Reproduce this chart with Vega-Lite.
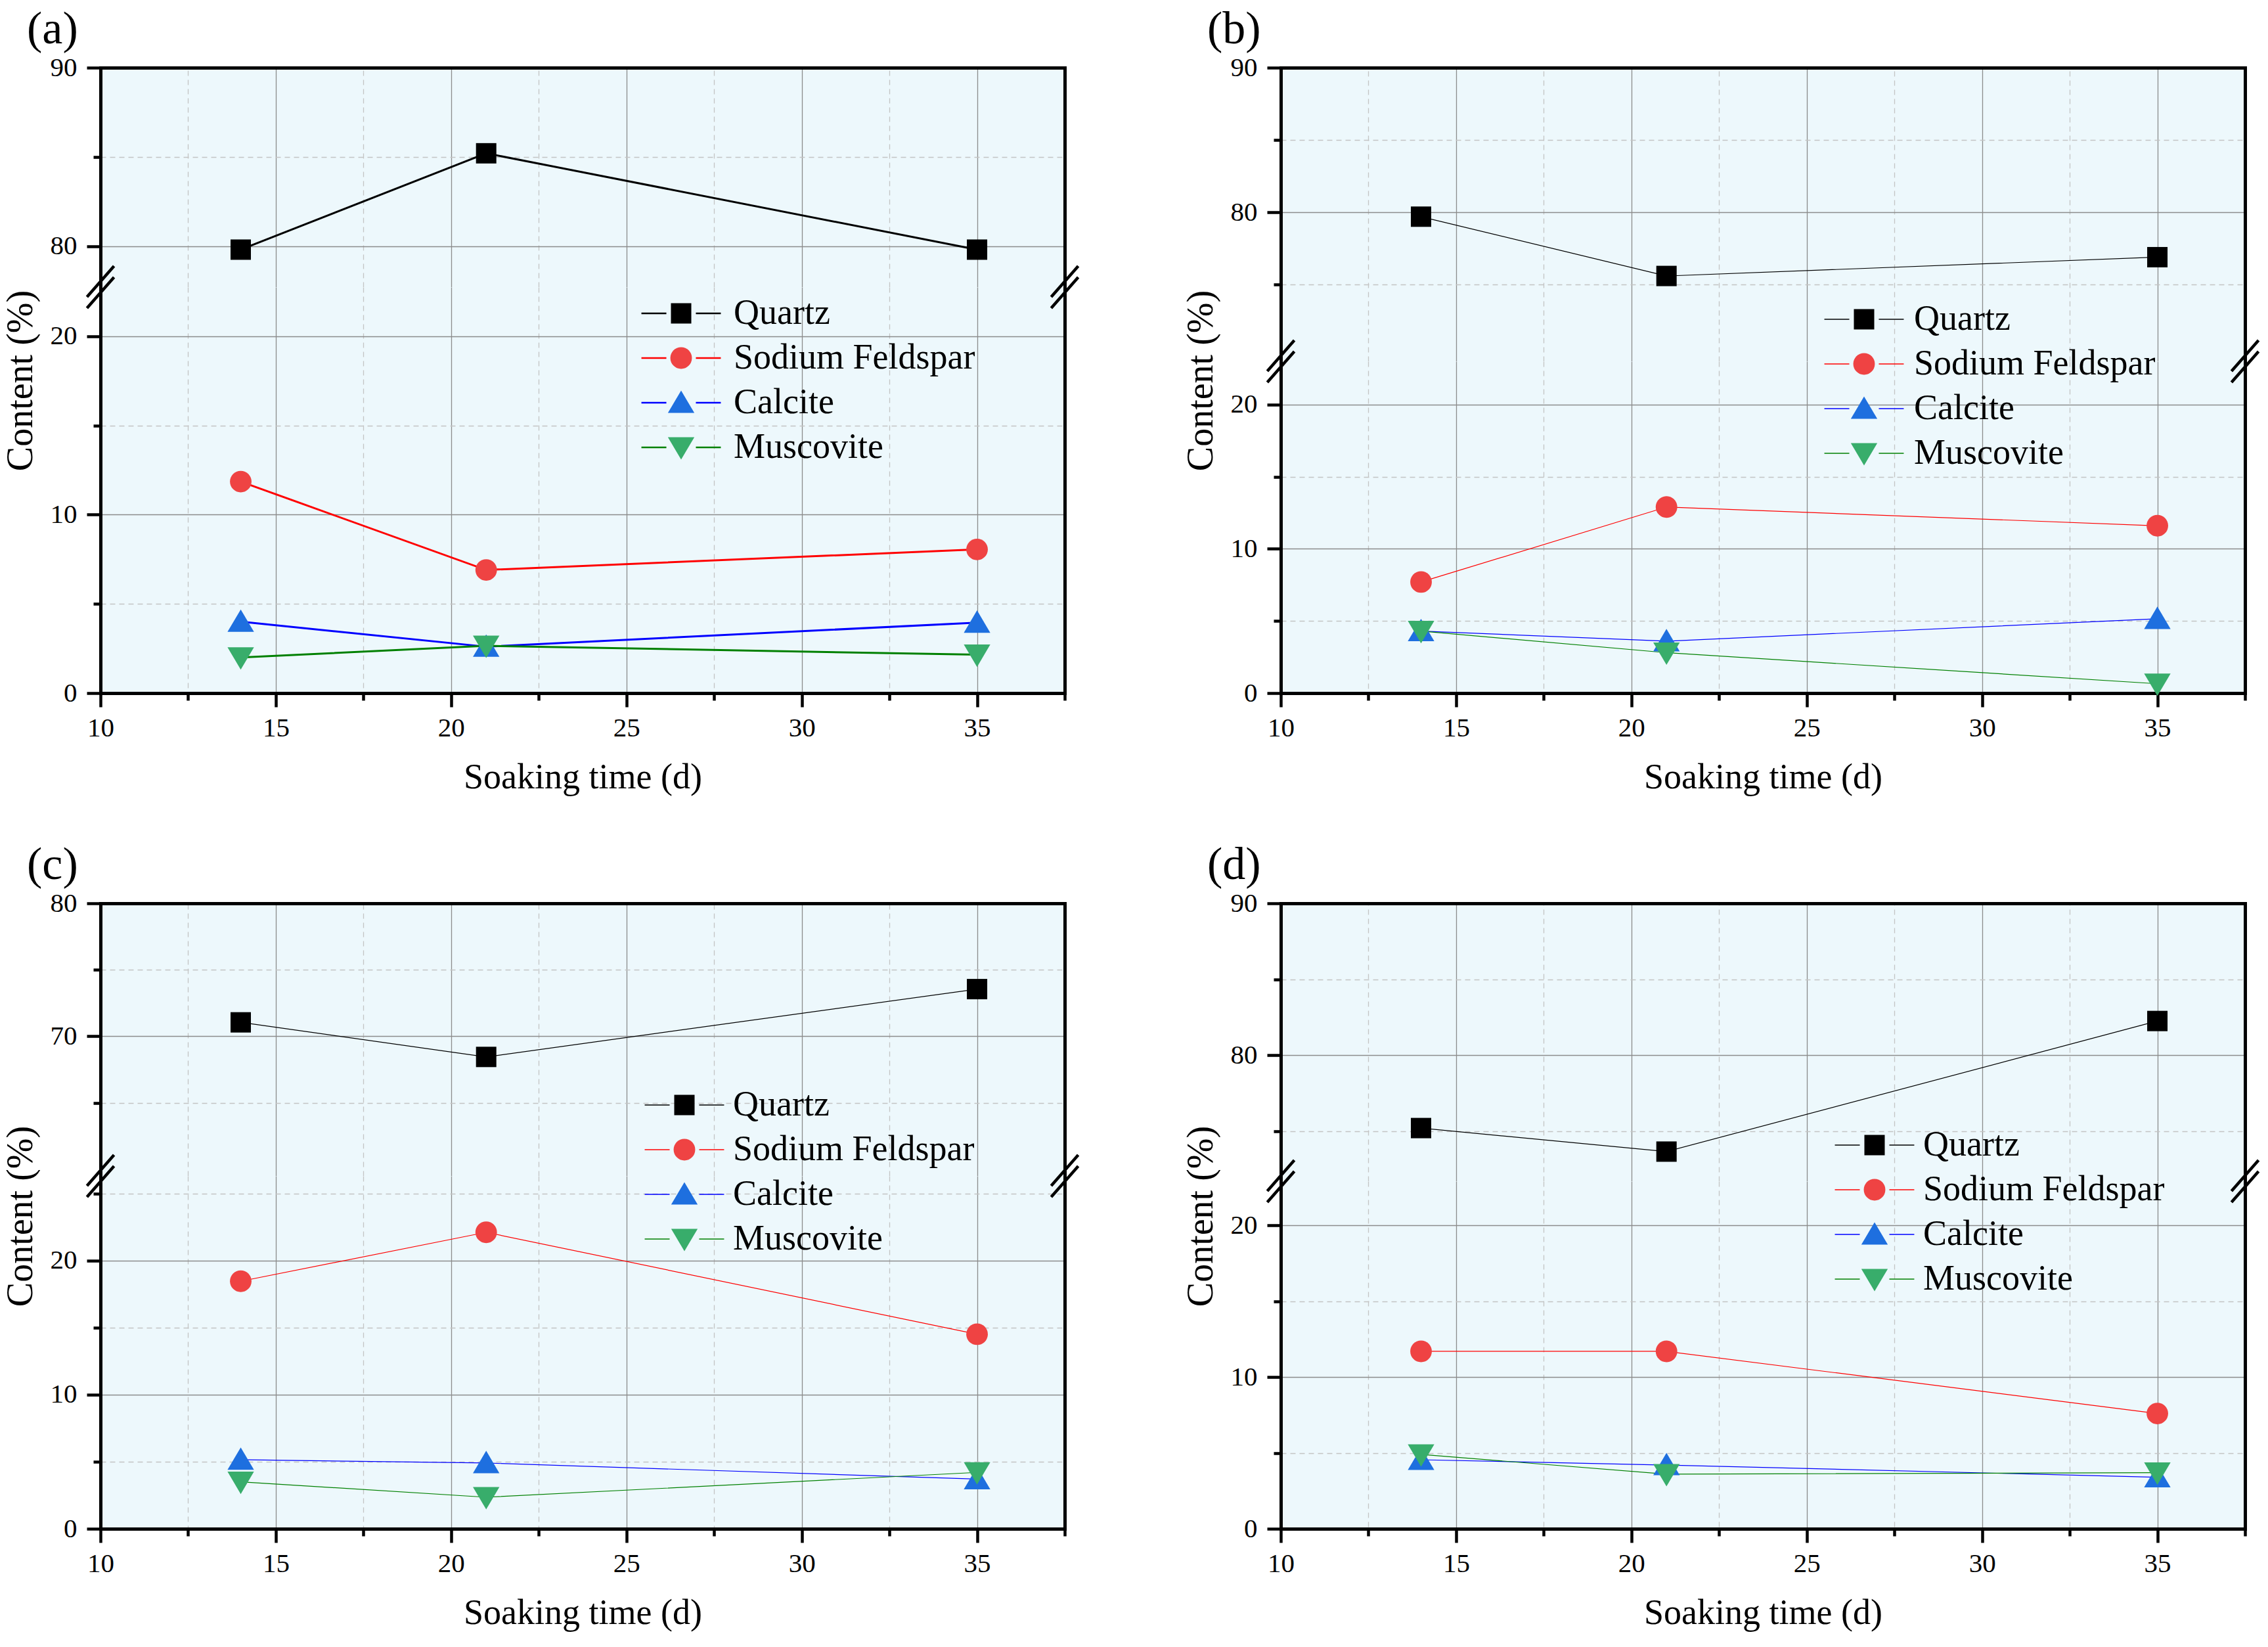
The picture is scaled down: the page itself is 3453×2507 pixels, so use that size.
{
  "$schema": "https://vega.github.io/schema/vega-lite/v6.json",
  "description": "Mineral content vs soaking time, four panels with broken y axes",
  "background": "white",
  "padding": {"left": 3, "top": 10, "right": 5, "bottom": 5},
  "config": {
    "font": "Liberation Serif",
    "view": {"stroke": null, "fill": "#EDF8FC"},
    "axis": {"labelFont": "Liberation Serif", "titleFont": "Liberation Serif", "labelColor": "black", "titleColor": "black"},
    "legend": {"labelFont": "Liberation Serif"},
    "title": {"font": "Liberation Serif", "fontWeight": "normal", "color": "black"}
  },
  "data": {
    "values": [
      {"panel": "a", "mineral": "Quartz", "time": 14, "content": 79.8},
      {"panel": "a", "mineral": "Quartz", "time": 21, "content": 85.2},
      {"panel": "a", "mineral": "Quartz", "time": 35, "content": 79.8},
      {"panel": "a", "mineral": "Sodium Feldspar", "time": 14, "content": 11.85},
      {"panel": "a", "mineral": "Sodium Feldspar", "time": 21, "content": 6.9},
      {"panel": "a", "mineral": "Sodium Feldspar", "time": 35, "content": 8.05},
      {"panel": "a", "mineral": "Calcite", "time": 14, "content": 4.0},
      {"panel": "a", "mineral": "Calcite", "time": 21, "content": 2.6},
      {"panel": "a", "mineral": "Calcite", "time": 35, "content": 3.95},
      {"panel": "a", "mineral": "Muscovite", "time": 14, "content": 2.0},
      {"panel": "a", "mineral": "Muscovite", "time": 21, "content": 2.65},
      {"panel": "a", "mineral": "Muscovite", "time": 35, "content": 2.15},
      {"panel": "b", "mineral": "Quartz", "time": 14, "content": 79.7},
      {"panel": "b", "mineral": "Quartz", "time": 21, "content": 75.6},
      {"panel": "b", "mineral": "Quartz", "time": 35, "content": 76.9},
      {"panel": "b", "mineral": "Sodium Feldspar", "time": 14, "content": 7.7},
      {"panel": "b", "mineral": "Sodium Feldspar", "time": 21, "content": 12.9},
      {"panel": "b", "mineral": "Sodium Feldspar", "time": 35, "content": 11.6},
      {"panel": "b", "mineral": "Calcite", "time": 14, "content": 4.3},
      {"panel": "b", "mineral": "Calcite", "time": 21, "content": 3.6},
      {"panel": "b", "mineral": "Calcite", "time": 35, "content": 5.15},
      {"panel": "b", "mineral": "Muscovite", "time": 14, "content": 4.3},
      {"panel": "b", "mineral": "Muscovite", "time": 21, "content": 2.8},
      {"panel": "b", "mineral": "Muscovite", "time": 35, "content": 0.65},
      {"panel": "c", "mineral": "Quartz", "time": 14, "content": 71.05},
      {"panel": "c", "mineral": "Quartz", "time": 21, "content": 68.45},
      {"panel": "c", "mineral": "Quartz", "time": 35, "content": 73.55},
      {"panel": "c", "mineral": "Sodium Feldspar", "time": 14, "content": 18.45},
      {"panel": "c", "mineral": "Sodium Feldspar", "time": 21, "content": 22.1},
      {"panel": "c", "mineral": "Sodium Feldspar", "time": 35, "content": 14.5},
      {"panel": "c", "mineral": "Calcite", "time": 14, "content": 5.15},
      {"panel": "c", "mineral": "Calcite", "time": 21, "content": 4.9},
      {"panel": "c", "mineral": "Calcite", "time": 35, "content": 3.7},
      {"panel": "c", "mineral": "Muscovite", "time": 14, "content": 3.5},
      {"panel": "c", "mineral": "Muscovite", "time": 21, "content": 2.35},
      {"panel": "c", "mineral": "Muscovite", "time": 35, "content": 4.2},
      {"panel": "d", "mineral": "Quartz", "time": 14, "content": 75.2},
      {"panel": "d", "mineral": "Quartz", "time": 21, "content": 73.65},
      {"panel": "d", "mineral": "Quartz", "time": 35, "content": 82.25},
      {"panel": "d", "mineral": "Sodium Feldspar", "time": 14, "content": 11.7},
      {"panel": "d", "mineral": "Sodium Feldspar", "time": 21, "content": 11.7},
      {"panel": "d", "mineral": "Sodium Feldspar", "time": 35, "content": 7.6},
      {"panel": "d", "mineral": "Calcite", "time": 14, "content": 4.55},
      {"panel": "d", "mineral": "Calcite", "time": 21, "content": 4.2},
      {"panel": "d", "mineral": "Calcite", "time": 35, "content": 3.4},
      {"panel": "d", "mineral": "Muscovite", "time": 14, "content": 4.9},
      {"panel": "d", "mineral": "Muscovite", "time": 21, "content": 3.6},
      {"panel": "d", "mineral": "Muscovite", "time": 35, "content": 3.7}
    ]
  },
  "spacing": 72,
  "resolve": {"scale": {"fill": "independent", "shape": "independent", "stroke": "independent"}},
  "vconcat": [
    {
      "spacing": 149,
      "resolve": {"scale": {"fill": "independent", "shape": "independent", "stroke": "independent"}},
      "hconcat": [
        {
          "title": {"text": "(a)", "anchor": "start", "fontSize": 70, "offset": 1, "dx": 38},
          "bounds": "flush",
          "spacing": 0,
          "resolve": {"scale": {"fill": "independent", "shape": "independent", "stroke": "independent"}},
          "vconcat": [
            {
              "width": 1468, "height": 334,
              "resolve": {"axis": {"x": "independent", "y": "independent"}},
              "layer": [
                {
                  "transform": [{"filter": "datum.panel === 'a' && datum.mineral === 'Quartz'"}],
                  "mark": {"type": "line", "strokeWidth": 3},
                  "encoding": {
                    "x": {"field": "time", "type": "quantitative", "scale": {"domain": [10, 37.5], "nice": false, "zero": false},
                      "axis": {"orient": "top", "values": [15, 20, 25, 30, 35], "grid": true, "gridColor": "#8c8c8c", "gridWidth": 1.3, "domain": true, "domainColor": "black", "domainWidth": 5, "domainCap": "square", "ticks": false, "labels": false, "title": null}},
                    "y": {"field": "content", "type": "quantitative", "scale": {"domain": [77.7, 90], "nice": false, "zero": false},
                      "axis": {"orient": "left", "values": [80, 90], "title": null, "grid": true, "gridColor": "#8c8c8c", "gridWidth": 1.3, "domain": true, "domainColor": "black", "domainWidth": 5, "domainCap": "square", "tickSize": 21, "tickWidth": 4.5, "tickColor": "black", "labelFont": "Liberation Serif", "labelFontSize": 41, "labelPadding": 15, "labelFlush": false, "labelOverlap": false}},
                    "stroke": {"field": "mineral", "type": "nominal", "scale": {"domain": ["Quartz"], "range": ["#000000"]}, "legend": null}
                  }
                },
                {
                  "transform": [{"filter": "datum.panel === 'a' && datum.mineral === 'Quartz'"}],
                  "mark": {"type": "point", "filled": true, "size": 961, "opacity": 1, "strokeWidth": 0},
                  "encoding": {
                    "x": {"field": "time", "type": "quantitative",
                      "axis": {"orient": "top", "values": [12.5, 17.5, 22.5, 27.5, 32.5], "grid": true, "gridColor": "#c4c4c4", "gridDash": [8, 6], "gridWidth": 1.3, "domain": false, "ticks": false, "labels": false, "title": null}},
                    "y": {"field": "content", "type": "quantitative",
                      "axis": {"orient": "left", "values": [85], "title": null, "grid": true, "gridColor": "#c4c4c4", "gridDash": [8, 6], "gridWidth": 1.3, "domain": false, "tickSize": 11, "tickWidth": 4.5, "tickColor": "black", "labels": false}},
                    "fill": {"field": "mineral", "type": "nominal", "scale": {"domain": ["Quartz", "Sodium Feldspar", "Calcite", "Muscovite"], "range": ["#000000", "#ef4343", "#1e6fdf", "#38ad6b"]}, "legend": null},
                    "shape": {"field": "mineral", "type": "nominal", "scale": {"domain": ["Quartz", "Sodium Feldspar", "Calcite", "Muscovite"], "range": ["M-1,-1H1V1H-1Z", "M1.06,0A1.06,1.06,0,1,1,-1.06,0A1.06,1.06,0,1,1,1.06,0Z", "M0,-1.2L1.3,1H-1.3Z", "M0,1.2L1.3,-1H-1.3Z"]}, "legend": null}
                  }
                },
                {
                  "data": {"values": [{}]},
                  "mark": {"type": "point", "opacity": 0},
                  "encoding": {
                    "x": {"datum": 10, "type": "quantitative", "axis": null},
                    "y": {"datum": 80, "type": "quantitative", "axis": {"orient": "right", "domain": true, "domainColor": "black", "domainWidth": 5, "domainCap": "square", "ticks": false, "labels": false, "grid": false, "title": null}}
                  }
                }
              ]
            },
            {
              "width": 1468, "height": 618,
              "resolve": {
                "axis": {"x": "independent", "y": "independent"},
                "scale": {"fill": "independent", "shape": "independent", "stroke": "independent"},
                "legend": {"fill": "independent", "shape": "independent", "stroke": "independent"}
              },
              "layer": [
                {
                  "transform": [{"filter": "datum.panel === 'a' && datum.mineral !== 'Quartz'"}],
                  "mark": {"type": "line", "strokeWidth": 3},
                  "encoding": {
                    "x": {"field": "time", "type": "quantitative", "scale": {"domain": [10, 37.5], "nice": false, "zero": false},
                      "axis": {"orient": "bottom", "values": [10, 15, 20, 25, 30, 35], "grid": true, "gridColor": "#8c8c8c", "gridWidth": 1.3, "domain": true, "domainColor": "black", "domainWidth": 5, "domainCap": "square", "tickSize": 21, "tickWidth": 4.5, "tickColor": "black", "labelFont": "Liberation Serif", "labelFontSize": 41, "labelPadding": 12, "labelFlush": false, "labelOverlap": false, "title": "Soaking time (d)", "titleFont": "Liberation Serif", "titleFontSize": 54, "titleFontWeight": "normal", "titlePadding": 28}},
                    "y": {"field": "content", "type": "quantitative", "scale": {"domain": [0, 22.75], "nice": false, "zero": false},
                      "axis": {"orient": "left", "values": [0, 10, 20], "grid": true, "gridColor": "#8c8c8c", "gridWidth": 1.3, "domain": true, "domainColor": "black", "domainWidth": 5, "domainCap": "square", "tickSize": 21, "tickWidth": 4.5, "tickColor": "black", "labelFont": "Liberation Serif", "labelFontSize": 41, "labelPadding": 15, "labelFlush": false, "labelOverlap": false, "title": "Content (%)", "titleFont": "Liberation Serif", "titleFontSize": 56, "titleFontWeight": "normal", "titleBaseline": "alphabetic", "titlePadding": 28, "titleY": 142}},
                    "stroke": {"field": "mineral", "type": "nominal", "scale": {"domain": ["Sodium Feldspar", "Calcite", "Muscovite"], "range": ["#ff0000", "#0000ff", "#008000"]}, "legend": null}
                  }
                },
                {
                  "transform": [{"filter": "datum.panel === 'a' && datum.mineral !== 'Quartz'"}],
                  "mark": {"type": "point", "filled": true, "size": 961, "opacity": 1, "strokeWidth": 0},
                  "encoding": {
                    "x": {"field": "time", "type": "quantitative",
                      "axis": {"orient": "bottom", "values": [12.5, 17.5, 22.5, 27.5, 32.5, 37.5], "grid": true, "gridColor": "#c4c4c4", "gridDash": [8, 6], "gridWidth": 1.3, "domain": false, "tickSize": 11, "tickWidth": 4.5, "tickColor": "black", "labels": false, "title": null}},
                    "y": {"field": "content", "type": "quantitative",
                      "axis": {"orient": "left", "values": [5, 15], "title": null, "grid": true, "gridColor": "#c4c4c4", "gridDash": [8, 6], "gridWidth": 1.3, "domain": false, "tickSize": 11, "tickWidth": 4.5, "tickColor": "black", "labels": false}},
                    "fill": {"field": "mineral", "type": "nominal", "scale": {"domain": ["Quartz", "Sodium Feldspar", "Calcite", "Muscovite"], "range": ["#000000", "#ef4343", "#1e6fdf", "#38ad6b"]},
                      "legend": {"orient": "none", "legendX": 857, "legendY": 13, "title": null, "padding": 0, "labelFont": "Liberation Serif", "labelFontSize": 54, "labelColor": "black", "labelOpacity": 0, "labelLimit": 1000, "labelOffset": 53, "rowPadding": 14, "symbolSize": 961, "symbolOpacity": 1, "symbolStrokeWidth": 2.7}},
                    "shape": {"field": "mineral", "type": "nominal", "scale": {"domain": ["Quartz", "Sodium Feldspar", "Calcite", "Muscovite"], "range": ["M-1,-1H1V1H-1Z", "M1.06,0A1.06,1.06,0,1,1,-1.06,0A1.06,1.06,0,1,1,1.06,0Z", "M0,-1.2L1.3,1H-1.3Z", "M0,1.2L1.3,-1H-1.3Z"]}}
                  }
                },
                {
                  "transform": [{"filter": "datum.panel === 'a' && datum.mineral !== 'Quartz'"}],
                  "mark": {"type": "point", "size": 961, "opacity": 0, "strokeWidth": 2.7},
                  "encoding": {
                    "x": {"field": "time", "type": "quantitative", "axis": null},
                    "y": {"field": "content", "type": "quantitative", "axis": null},
                    "stroke": {"field": "mineral", "type": "nominal", "scale": {"domain": ["Quartz", "Sodium Feldspar", "Calcite", "Muscovite"], "range": ["#000000", "#ff0000", "#0000ff", "#008000"]},
                      "legend": {"orient": "none", "legendX": 857, "legendY": 13, "title": null, "padding": 0, "labelFont": "Liberation Serif", "labelFontSize": 54, "labelColor": "black", "labelLimit": 1000, "labelOffset": 53, "rowPadding": 14, "symbolSize": 961, "symbolOpacity": 1, "symbolStrokeWidth": 2.7, "symbolType": "M-3.9,0H-1.45M1.45,0H3.9"}}
                  }
                },
                {
                  "data": {"values": [{}]},
                  "mark": {"type": "point", "shape": "M-1.03,0.75L1.03,-1.6M-1.03,1.6L1.03,-0.75", "size": 1600, "filled": false, "stroke": "black", "strokeWidth": 4.5, "opacity": 1},
                  "encoding": {
                    "x": {"datum": 10, "type": "quantitative", "axis": null},
                    "y": {"datum": 22.75, "type": "quantitative", "axis": {"orient": "right", "domain": true, "domainColor": "black", "domainWidth": 5, "domainCap": "square", "ticks": false, "labels": false, "grid": false, "title": null}}
                  }
                },
                {
                  "data": {"values": [{}]},
                  "mark": {"type": "point", "shape": "M-1.03,0.75L1.03,-1.6M-1.03,1.6L1.03,-0.75", "size": 1600, "filled": false, "stroke": "black", "strokeWidth": 4.5, "opacity": 1},
                  "encoding": {
                    "x": {"datum": 37.5, "type": "quantitative", "axis": null},
                    "y": {"datum": 22.75, "type": "quantitative", "axis": null}
                  }
                }
              ]
            }
          ]
        },
        {
          "title": {"text": "(b)", "anchor": "start", "fontSize": 70, "offset": 1, "dx": 38},
          "bounds": "flush",
          "spacing": 0,
          "resolve": {"scale": {"fill": "independent", "shape": "independent", "stroke": "independent"}},
          "vconcat": [
            {
              "width": 1468, "height": 447,
              "resolve": {"axis": {"x": "independent", "y": "independent"}},
              "layer": [
                {
                  "transform": [{"filter": "datum.panel === 'b' && datum.mineral === 'Quartz'"}],
                  "mark": {"type": "line", "strokeWidth": 1.2},
                  "encoding": {
                    "x": {"field": "time", "type": "quantitative", "scale": {"domain": [10, 37.5], "nice": false, "zero": false},
                      "axis": {"orient": "top", "values": [15, 20, 25, 30, 35], "grid": true, "gridColor": "#8c8c8c", "gridWidth": 1.3, "domain": true, "domainColor": "black", "domainWidth": 5, "domainCap": "square", "ticks": false, "labels": false, "title": null}},
                    "y": {"field": "content", "type": "quantitative", "scale": {"domain": [69.7, 90], "nice": false, "zero": false},
                      "axis": {"orient": "left", "values": [80, 90], "title": null, "grid": true, "gridColor": "#8c8c8c", "gridWidth": 1.3, "domain": true, "domainColor": "black", "domainWidth": 5, "domainCap": "square", "tickSize": 21, "tickWidth": 4.5, "tickColor": "black", "labelFont": "Liberation Serif", "labelFontSize": 41, "labelPadding": 15, "labelFlush": false, "labelOverlap": false}},
                    "stroke": {"field": "mineral", "type": "nominal", "scale": {"domain": ["Quartz"], "range": ["#000000"]}, "legend": null}
                  }
                },
                {
                  "transform": [{"filter": "datum.panel === 'b' && datum.mineral === 'Quartz'"}],
                  "mark": {"type": "point", "filled": true, "size": 961, "opacity": 1, "strokeWidth": 0},
                  "encoding": {
                    "x": {"field": "time", "type": "quantitative",
                      "axis": {"orient": "top", "values": [12.5, 17.5, 22.5, 27.5, 32.5], "grid": true, "gridColor": "#c4c4c4", "gridDash": [8, 6], "gridWidth": 1.3, "domain": false, "ticks": false, "labels": false, "title": null}},
                    "y": {"field": "content", "type": "quantitative",
                      "axis": {"orient": "left", "values": [75, 85], "title": null, "grid": true, "gridColor": "#c4c4c4", "gridDash": [8, 6], "gridWidth": 1.3, "domain": false, "tickSize": 11, "tickWidth": 4.5, "tickColor": "black", "labels": false}},
                    "fill": {"field": "mineral", "type": "nominal", "scale": {"domain": ["Quartz", "Sodium Feldspar", "Calcite", "Muscovite"], "range": ["#000000", "#ef4343", "#1e6fdf", "#38ad6b"]}, "legend": null},
                    "shape": {"field": "mineral", "type": "nominal", "scale": {"domain": ["Quartz", "Sodium Feldspar", "Calcite", "Muscovite"], "range": ["M-1,-1H1V1H-1Z", "M1.06,0A1.06,1.06,0,1,1,-1.06,0A1.06,1.06,0,1,1,1.06,0Z", "M0,-1.2L1.3,1H-1.3Z", "M0,1.2L1.3,-1H-1.3Z"]}, "legend": null}
                  }
                },
                {
                  "data": {"values": [{}]},
                  "mark": {"type": "point", "opacity": 0},
                  "encoding": {
                    "x": {"datum": 10, "type": "quantitative", "axis": null},
                    "y": {"datum": 80, "type": "quantitative", "axis": {"orient": "right", "domain": true, "domainColor": "black", "domainWidth": 5, "domainCap": "square", "ticks": false, "labels": false, "grid": false, "title": null}}
                  }
                }
              ]
            },
            {
              "width": 1468, "height": 505,
              "resolve": {
                "axis": {"x": "independent", "y": "independent"},
                "scale": {"fill": "independent", "shape": "independent", "stroke": "independent"},
                "legend": {"fill": "independent", "shape": "independent", "stroke": "independent"}
              },
              "layer": [
                {
                  "transform": [{"filter": "datum.panel === 'b' && datum.mineral !== 'Quartz'"}],
                  "mark": {"type": "line", "strokeWidth": 1.2},
                  "encoding": {
                    "x": {"field": "time", "type": "quantitative", "scale": {"domain": [10, 37.5], "nice": false, "zero": false},
                      "axis": {"orient": "bottom", "values": [10, 15, 20, 25, 30, 35], "grid": true, "gridColor": "#8c8c8c", "gridWidth": 1.3, "domain": true, "domainColor": "black", "domainWidth": 5, "domainCap": "square", "tickSize": 21, "tickWidth": 4.5, "tickColor": "black", "labelFont": "Liberation Serif", "labelFontSize": 41, "labelPadding": 12, "labelFlush": false, "labelOverlap": false, "title": "Soaking time (d)", "titleFont": "Liberation Serif", "titleFontSize": 54, "titleFontWeight": "normal", "titlePadding": 28}},
                    "y": {"field": "content", "type": "quantitative", "scale": {"domain": [0, 23.0], "nice": false, "zero": false},
                      "axis": {"orient": "left", "values": [0, 10, 20], "grid": true, "gridColor": "#8c8c8c", "gridWidth": 1.3, "domain": true, "domainColor": "black", "domainWidth": 5, "domainCap": "square", "tickSize": 21, "tickWidth": 4.5, "tickColor": "black", "labelFont": "Liberation Serif", "labelFontSize": 41, "labelPadding": 15, "labelFlush": false, "labelOverlap": false, "title": "Content (%)", "titleFont": "Liberation Serif", "titleFontSize": 56, "titleFontWeight": "normal", "titleBaseline": "alphabetic", "titlePadding": 28, "titleY": 29}},
                    "stroke": {"field": "mineral", "type": "nominal", "scale": {"domain": ["Sodium Feldspar", "Calcite", "Muscovite"], "range": ["#ff0000", "#0000ff", "#008000"]}, "legend": null}
                  }
                },
                {
                  "transform": [{"filter": "datum.panel === 'b' && datum.mineral !== 'Quartz'"}],
                  "mark": {"type": "point", "filled": true, "size": 961, "opacity": 1, "strokeWidth": 0},
                  "encoding": {
                    "x": {"field": "time", "type": "quantitative",
                      "axis": {"orient": "bottom", "values": [12.5, 17.5, 22.5, 27.5, 32.5, 37.5], "grid": true, "gridColor": "#c4c4c4", "gridDash": [8, 6], "gridWidth": 1.3, "domain": false, "tickSize": 11, "tickWidth": 4.5, "tickColor": "black", "labels": false, "title": null}},
                    "y": {"field": "content", "type": "quantitative",
                      "axis": {"orient": "left", "values": [5, 15], "title": null, "grid": true, "gridColor": "#c4c4c4", "gridDash": [8, 6], "gridWidth": 1.3, "domain": false, "tickSize": 11, "tickWidth": 4.5, "tickColor": "black", "labels": false}},
                    "fill": {"field": "mineral", "type": "nominal", "scale": {"domain": ["Quartz", "Sodium Feldspar", "Calcite", "Muscovite"], "range": ["#000000", "#ef4343", "#1e6fdf", "#38ad6b"]},
                      "legend": {"orient": "none", "legendX": 861, "legendY": -91, "title": null, "padding": 0, "labelFont": "Liberation Serif", "labelFontSize": 54, "labelColor": "black", "labelOpacity": 0, "labelLimit": 1000, "labelOffset": 49, "rowPadding": 14, "symbolSize": 961, "symbolOpacity": 1, "symbolStrokeWidth": 1.3}},
                    "shape": {"field": "mineral", "type": "nominal", "scale": {"domain": ["Quartz", "Sodium Feldspar", "Calcite", "Muscovite"], "range": ["M-1,-1H1V1H-1Z", "M1.06,0A1.06,1.06,0,1,1,-1.06,0A1.06,1.06,0,1,1,1.06,0Z", "M0,-1.2L1.3,1H-1.3Z", "M0,1.2L1.3,-1H-1.3Z"]}}
                  }
                },
                {
                  "transform": [{"filter": "datum.panel === 'b' && datum.mineral !== 'Quartz'"}],
                  "mark": {"type": "point", "size": 961, "opacity": 0, "strokeWidth": 1.3},
                  "encoding": {
                    "x": {"field": "time", "type": "quantitative", "axis": null},
                    "y": {"field": "content", "type": "quantitative", "axis": null},
                    "stroke": {"field": "mineral", "type": "nominal", "scale": {"domain": ["Quartz", "Sodium Feldspar", "Calcite", "Muscovite"], "range": ["#000000", "#ff0000", "#0000ff", "#008000"]},
                      "legend": {"orient": "none", "legendX": 861, "legendY": -91, "title": null, "padding": 0, "labelFont": "Liberation Serif", "labelFontSize": 54, "labelColor": "black", "labelLimit": 1000, "labelOffset": 49, "rowPadding": 14, "symbolSize": 961, "symbolOpacity": 1, "symbolStrokeWidth": 1.3, "symbolType": "M-3.9,0H-1.45M1.45,0H3.9"}}
                  }
                },
                {
                  "data": {"values": [{}]},
                  "mark": {"type": "point", "shape": "M-1.03,0.75L1.03,-1.6M-1.03,1.6L1.03,-0.75", "size": 1600, "filled": false, "stroke": "black", "strokeWidth": 4.5, "opacity": 1},
                  "encoding": {
                    "x": {"datum": 10, "type": "quantitative", "axis": null},
                    "y": {"datum": 23.0, "type": "quantitative", "axis": {"orient": "right", "domain": true, "domainColor": "black", "domainWidth": 5, "domainCap": "square", "ticks": false, "labels": false, "grid": false, "title": null}}
                  }
                },
                {
                  "data": {"values": [{}]},
                  "mark": {"type": "point", "shape": "M-1.03,0.75L1.03,-1.6M-1.03,1.6L1.03,-0.75", "size": 1600, "filled": false, "stroke": "black", "strokeWidth": 4.5, "opacity": 1},
                  "encoding": {
                    "x": {"datum": 37.5, "type": "quantitative", "axis": null},
                    "y": {"datum": 23.0, "type": "quantitative", "axis": null}
                  }
                }
              ]
            }
          ]
        }
      ]
    },
    {
      "spacing": 149,
      "resolve": {"scale": {"fill": "independent", "shape": "independent", "stroke": "independent"}},
      "hconcat": [
        {
          "title": {"text": "(c)", "anchor": "start", "fontSize": 70, "offset": 1, "dx": 38},
          "bounds": "flush",
          "spacing": 0,
          "resolve": {"scale": {"fill": "independent", "shape": "independent", "stroke": "independent"}},
          "vconcat": [
            {
              "width": 1468, "height": 415,
              "resolve": {"axis": {"x": "independent", "y": "independent"}},
              "layer": [
                {
                  "transform": [{"filter": "datum.panel === 'c' && datum.mineral === 'Quartz'"}],
                  "mark": {"type": "line", "strokeWidth": 1.2},
                  "encoding": {
                    "x": {"field": "time", "type": "quantitative", "scale": {"domain": [10, 37.5], "nice": false, "zero": false},
                      "axis": {"orient": "top", "values": [15, 20, 25, 30, 35], "grid": true, "gridColor": "#8c8c8c", "gridWidth": 1.3, "domain": true, "domainColor": "black", "domainWidth": 5, "domainCap": "square", "ticks": false, "labels": false, "title": null}},
                    "y": {"field": "content", "type": "quantitative", "scale": {"domain": [59.5, 80], "nice": false, "zero": false},
                      "axis": {"orient": "left", "values": [70, 80], "title": null, "grid": true, "gridColor": "#8c8c8c", "gridWidth": 1.3, "domain": true, "domainColor": "black", "domainWidth": 5, "domainCap": "square", "tickSize": 21, "tickWidth": 4.5, "tickColor": "black", "labelFont": "Liberation Serif", "labelFontSize": 41, "labelPadding": 15, "labelFlush": false, "labelOverlap": false}},
                    "stroke": {"field": "mineral", "type": "nominal", "scale": {"domain": ["Quartz"], "range": ["#000000"]}, "legend": null}
                  }
                },
                {
                  "transform": [{"filter": "datum.panel === 'c' && datum.mineral === 'Quartz'"}],
                  "mark": {"type": "point", "filled": true, "size": 961, "opacity": 1, "strokeWidth": 0},
                  "encoding": {
                    "x": {"field": "time", "type": "quantitative",
                      "axis": {"orient": "top", "values": [12.5, 17.5, 22.5, 27.5, 32.5], "grid": true, "gridColor": "#c4c4c4", "gridDash": [8, 6], "gridWidth": 1.3, "domain": false, "ticks": false, "labels": false, "title": null}},
                    "y": {"field": "content", "type": "quantitative",
                      "axis": {"orient": "left", "values": [65, 75], "title": null, "grid": true, "gridColor": "#c4c4c4", "gridDash": [8, 6], "gridWidth": 1.3, "domain": false, "tickSize": 11, "tickWidth": 4.5, "tickColor": "black", "labels": false}},
                    "fill": {"field": "mineral", "type": "nominal", "scale": {"domain": ["Quartz", "Sodium Feldspar", "Calcite", "Muscovite"], "range": ["#000000", "#ef4343", "#1e6fdf", "#38ad6b"]}, "legend": null},
                    "shape": {"field": "mineral", "type": "nominal", "scale": {"domain": ["Quartz", "Sodium Feldspar", "Calcite", "Muscovite"], "range": ["M-1,-1H1V1H-1Z", "M1.06,0A1.06,1.06,0,1,1,-1.06,0A1.06,1.06,0,1,1,1.06,0Z", "M0,-1.2L1.3,1H-1.3Z", "M0,1.2L1.3,-1H-1.3Z"]}, "legend": null}
                  }
                },
                {
                  "data": {"values": [{}]},
                  "mark": {"type": "point", "opacity": 0},
                  "encoding": {
                    "x": {"datum": 10, "type": "quantitative", "axis": null},
                    "y": {"datum": 70, "type": "quantitative", "axis": {"orient": "right", "domain": true, "domainColor": "black", "domainWidth": 5, "domainCap": "square", "ticks": false, "labels": false, "grid": false, "title": null}}
                  }
                }
              ]
            },
            {
              "width": 1468, "height": 537,
              "resolve": {
                "axis": {"x": "independent", "y": "independent"},
                "scale": {"fill": "independent", "shape": "independent", "stroke": "independent"},
                "legend": {"fill": "independent", "shape": "independent", "stroke": "independent"}
              },
              "layer": [
                {
                  "transform": [{"filter": "datum.panel === 'c' && datum.mineral !== 'Quartz'"}],
                  "mark": {"type": "line", "strokeWidth": 1.2},
                  "encoding": {
                    "x": {"field": "time", "type": "quantitative", "scale": {"domain": [10, 37.5], "nice": false, "zero": false},
                      "axis": {"orient": "bottom", "values": [10, 15, 20, 25, 30, 35], "grid": true, "gridColor": "#8c8c8c", "gridWidth": 1.3, "domain": true, "domainColor": "black", "domainWidth": 5, "domainCap": "square", "tickSize": 21, "tickWidth": 4.5, "tickColor": "black", "labelFont": "Liberation Serif", "labelFontSize": 41, "labelPadding": 12, "labelFlush": false, "labelOverlap": false, "title": "Soaking time (d)", "titleFont": "Liberation Serif", "titleFontSize": 54, "titleFontWeight": "normal", "titlePadding": 28}},
                    "y": {"field": "content", "type": "quantitative", "scale": {"domain": [0, 26.3], "nice": false, "zero": false},
                      "axis": {"orient": "left", "values": [0, 10, 20], "grid": true, "gridColor": "#8c8c8c", "gridWidth": 1.3, "domain": true, "domainColor": "black", "domainWidth": 5, "domainCap": "square", "tickSize": 21, "tickWidth": 4.5, "tickColor": "black", "labelFont": "Liberation Serif", "labelFontSize": 41, "labelPadding": 15, "labelFlush": false, "labelOverlap": false, "title": "Content (%)", "titleFont": "Liberation Serif", "titleFontSize": 56, "titleFontWeight": "normal", "titleBaseline": "alphabetic", "titlePadding": 28, "titleY": 61}},
                    "stroke": {"field": "mineral", "type": "nominal", "scale": {"domain": ["Sodium Feldspar", "Calcite", "Muscovite"], "range": ["#ff0000", "#0000ff", "#008000"]}, "legend": null}
                  }
                },
                {
                  "transform": [{"filter": "datum.panel === 'c' && datum.mineral !== 'Quartz'"}],
                  "mark": {"type": "point", "filled": true, "size": 961, "opacity": 1, "strokeWidth": 0},
                  "encoding": {
                    "x": {"field": "time", "type": "quantitative",
                      "axis": {"orient": "bottom", "values": [12.5, 17.5, 22.5, 27.5, 32.5, 37.5], "grid": true, "gridColor": "#c4c4c4", "gridDash": [8, 6], "gridWidth": 1.3, "domain": false, "tickSize": 11, "tickWidth": 4.5, "tickColor": "black", "labels": false, "title": null}},
                    "y": {"field": "content", "type": "quantitative",
                      "axis": {"orient": "left", "values": [5, 15, 25], "title": null, "grid": true, "gridColor": "#c4c4c4", "gridDash": [8, 6], "gridWidth": 1.3, "domain": false, "tickSize": 11, "tickWidth": 4.5, "tickColor": "black", "labels": false}},
                    "fill": {"field": "mineral", "type": "nominal", "scale": {"domain": ["Quartz", "Sodium Feldspar", "Calcite", "Muscovite"], "range": ["#000000", "#ef4343", "#1e6fdf", "#38ad6b"]},
                      "legend": {"orient": "none", "legendX": 862, "legendY": -135, "title": null, "padding": 0, "labelFont": "Liberation Serif", "labelFontSize": 54, "labelColor": "black", "labelOpacity": 0, "labelLimit": 1000, "labelOffset": 47, "rowPadding": 14, "symbolSize": 961, "symbolOpacity": 1, "symbolStrokeWidth": 1.3}},
                    "shape": {"field": "mineral", "type": "nominal", "scale": {"domain": ["Quartz", "Sodium Feldspar", "Calcite", "Muscovite"], "range": ["M-1,-1H1V1H-1Z", "M1.06,0A1.06,1.06,0,1,1,-1.06,0A1.06,1.06,0,1,1,1.06,0Z", "M0,-1.2L1.3,1H-1.3Z", "M0,1.2L1.3,-1H-1.3Z"]}}
                  }
                },
                {
                  "transform": [{"filter": "datum.panel === 'c' && datum.mineral !== 'Quartz'"}],
                  "mark": {"type": "point", "size": 961, "opacity": 0, "strokeWidth": 1.3},
                  "encoding": {
                    "x": {"field": "time", "type": "quantitative", "axis": null},
                    "y": {"field": "content", "type": "quantitative", "axis": null},
                    "stroke": {"field": "mineral", "type": "nominal", "scale": {"domain": ["Quartz", "Sodium Feldspar", "Calcite", "Muscovite"], "range": ["#000000", "#ff0000", "#0000ff", "#008000"]},
                      "legend": {"orient": "none", "legendX": 862, "legendY": -135, "title": null, "padding": 0, "labelFont": "Liberation Serif", "labelFontSize": 54, "labelColor": "black", "labelLimit": 1000, "labelOffset": 47, "rowPadding": 14, "symbolSize": 961, "symbolOpacity": 1, "symbolStrokeWidth": 1.3, "symbolType": "M-3.9,0H-1.45M1.45,0H3.9"}}
                  }
                },
                {
                  "data": {"values": [{}]},
                  "mark": {"type": "point", "shape": "M-1.03,0.75L1.03,-1.6M-1.03,1.6L1.03,-0.75", "size": 1600, "filled": false, "stroke": "black", "strokeWidth": 4.5, "opacity": 1},
                  "encoding": {
                    "x": {"datum": 10, "type": "quantitative", "axis": null},
                    "y": {"datum": 26.3, "type": "quantitative", "axis": {"orient": "right", "domain": true, "domainColor": "black", "domainWidth": 5, "domainCap": "square", "ticks": false, "labels": false, "grid": false, "title": null}}
                  }
                },
                {
                  "data": {"values": [{}]},
                  "mark": {"type": "point", "shape": "M-1.03,0.75L1.03,-1.6M-1.03,1.6L1.03,-0.75", "size": 1600, "filled": false, "stroke": "black", "strokeWidth": 4.5, "opacity": 1},
                  "encoding": {
                    "x": {"datum": 37.5, "type": "quantitative", "axis": null},
                    "y": {"datum": 26.3, "type": "quantitative", "axis": null}
                  }
                }
              ]
            }
          ]
        },
        {
          "title": {"text": "(d)", "anchor": "start", "fontSize": 70, "offset": 1, "dx": 38},
          "bounds": "flush",
          "spacing": 0,
          "resolve": {"scale": {"fill": "independent", "shape": "independent", "stroke": "independent"}},
          "vconcat": [
            {
              "width": 1468, "height": 423,
              "resolve": {"axis": {"x": "independent", "y": "independent"}},
              "layer": [
                {
                  "transform": [{"filter": "datum.panel === 'd' && datum.mineral === 'Quartz'"}],
                  "mark": {"type": "line", "strokeWidth": 1.2},
                  "encoding": {
                    "x": {"field": "time", "type": "quantitative", "scale": {"domain": [10, 37.5], "nice": false, "zero": false},
                      "axis": {"orient": "top", "values": [15, 20, 25, 30, 35], "grid": true, "gridColor": "#8c8c8c", "gridWidth": 1.3, "domain": true, "domainColor": "black", "domainWidth": 5, "domainCap": "square", "ticks": false, "labels": false, "title": null}},
                    "y": {"field": "content", "type": "quantitative", "scale": {"domain": [71.7, 90], "nice": false, "zero": false},
                      "axis": {"orient": "left", "values": [80, 90], "title": null, "grid": true, "gridColor": "#8c8c8c", "gridWidth": 1.3, "domain": true, "domainColor": "black", "domainWidth": 5, "domainCap": "square", "tickSize": 21, "tickWidth": 4.5, "tickColor": "black", "labelFont": "Liberation Serif", "labelFontSize": 41, "labelPadding": 15, "labelFlush": false, "labelOverlap": false}},
                    "stroke": {"field": "mineral", "type": "nominal", "scale": {"domain": ["Quartz"], "range": ["#000000"]}, "legend": null}
                  }
                },
                {
                  "transform": [{"filter": "datum.panel === 'd' && datum.mineral === 'Quartz'"}],
                  "mark": {"type": "point", "filled": true, "size": 961, "opacity": 1, "strokeWidth": 0},
                  "encoding": {
                    "x": {"field": "time", "type": "quantitative",
                      "axis": {"orient": "top", "values": [12.5, 17.5, 22.5, 27.5, 32.5], "grid": true, "gridColor": "#c4c4c4", "gridDash": [8, 6], "gridWidth": 1.3, "domain": false, "ticks": false, "labels": false, "title": null}},
                    "y": {"field": "content", "type": "quantitative",
                      "axis": {"orient": "left", "values": [75, 85], "title": null, "grid": true, "gridColor": "#c4c4c4", "gridDash": [8, 6], "gridWidth": 1.3, "domain": false, "tickSize": 11, "tickWidth": 4.5, "tickColor": "black", "labels": false}},
                    "fill": {"field": "mineral", "type": "nominal", "scale": {"domain": ["Quartz", "Sodium Feldspar", "Calcite", "Muscovite"], "range": ["#000000", "#ef4343", "#1e6fdf", "#38ad6b"]}, "legend": null},
                    "shape": {"field": "mineral", "type": "nominal", "scale": {"domain": ["Quartz", "Sodium Feldspar", "Calcite", "Muscovite"], "range": ["M-1,-1H1V1H-1Z", "M1.06,0A1.06,1.06,0,1,1,-1.06,0A1.06,1.06,0,1,1,1.06,0Z", "M0,-1.2L1.3,1H-1.3Z", "M0,1.2L1.3,-1H-1.3Z"]}, "legend": null}
                  }
                },
                {
                  "data": {"values": [{}]},
                  "mark": {"type": "point", "opacity": 0},
                  "encoding": {
                    "x": {"datum": 10, "type": "quantitative", "axis": null},
                    "y": {"datum": 80, "type": "quantitative", "axis": {"orient": "right", "domain": true, "domainColor": "black", "domainWidth": 5, "domainCap": "square", "ticks": false, "labels": false, "grid": false, "title": null}}
                  }
                }
              ]
            },
            {
              "width": 1468, "height": 529,
              "resolve": {
                "axis": {"x": "independent", "y": "independent"},
                "scale": {"fill": "independent", "shape": "independent", "stroke": "independent"},
                "legend": {"fill": "independent", "shape": "independent", "stroke": "independent"}
              },
              "layer": [
                {
                  "transform": [{"filter": "datum.panel === 'd' && datum.mineral !== 'Quartz'"}],
                  "mark": {"type": "line", "strokeWidth": 1.2},
                  "encoding": {
                    "x": {"field": "time", "type": "quantitative", "scale": {"domain": [10, 37.5], "nice": false, "zero": false},
                      "axis": {"orient": "bottom", "values": [10, 15, 20, 25, 30, 35], "grid": true, "gridColor": "#8c8c8c", "gridWidth": 1.3, "domain": true, "domainColor": "black", "domainWidth": 5, "domainCap": "square", "tickSize": 21, "tickWidth": 4.5, "tickColor": "black", "labelFont": "Liberation Serif", "labelFontSize": 41, "labelPadding": 12, "labelFlush": false, "labelOverlap": false, "title": "Soaking time (d)", "titleFont": "Liberation Serif", "titleFontSize": 54, "titleFontWeight": "normal", "titlePadding": 28}},
                    "y": {"field": "content", "type": "quantitative", "scale": {"domain": [0, 22.92], "nice": false, "zero": false},
                      "axis": {"orient": "left", "values": [0, 10, 20], "grid": true, "gridColor": "#8c8c8c", "gridWidth": 1.3, "domain": true, "domainColor": "black", "domainWidth": 5, "domainCap": "square", "tickSize": 21, "tickWidth": 4.5, "tickColor": "black", "labelFont": "Liberation Serif", "labelFontSize": 41, "labelPadding": 15, "labelFlush": false, "labelOverlap": false, "title": "Content (%)", "titleFont": "Liberation Serif", "titleFontSize": 56, "titleFontWeight": "normal", "titleBaseline": "alphabetic", "titlePadding": 28, "titleY": 53}},
                    "stroke": {"field": "mineral", "type": "nominal", "scale": {"domain": ["Sodium Feldspar", "Calcite", "Muscovite"], "range": ["#ff0000", "#0000ff", "#008000"]}, "legend": null}
                  }
                },
                {
                  "transform": [{"filter": "datum.panel === 'd' && datum.mineral !== 'Quartz'"}],
                  "mark": {"type": "point", "filled": true, "size": 961, "opacity": 1, "strokeWidth": 0},
                  "encoding": {
                    "x": {"field": "time", "type": "quantitative",
                      "axis": {"orient": "bottom", "values": [12.5, 17.5, 22.5, 27.5, 32.5, 37.5], "grid": true, "gridColor": "#c4c4c4", "gridDash": [8, 6], "gridWidth": 1.3, "domain": false, "tickSize": 11, "tickWidth": 4.5, "tickColor": "black", "labels": false, "title": null}},
                    "y": {"field": "content", "type": "quantitative",
                      "axis": {"orient": "left", "values": [5, 15], "title": null, "grid": true, "gridColor": "#c4c4c4", "gridDash": [8, 6], "gridWidth": 1.3, "domain": false, "tickSize": 11, "tickWidth": 4.5, "tickColor": "black", "labels": false}},
                    "fill": {"field": "mineral", "type": "nominal", "scale": {"domain": ["Quartz", "Sodium Feldspar", "Calcite", "Muscovite"], "range": ["#000000", "#ef4343", "#1e6fdf", "#38ad6b"]},
                      "legend": {"orient": "none", "legendX": 877, "legendY": -82, "title": null, "padding": 0, "labelFont": "Liberation Serif", "labelFontSize": 54, "labelColor": "black", "labelOpacity": 0, "labelLimit": 1000, "labelOffset": 47, "rowPadding": 14, "symbolSize": 961, "symbolOpacity": 1, "symbolStrokeWidth": 1.3}},
                    "shape": {"field": "mineral", "type": "nominal", "scale": {"domain": ["Quartz", "Sodium Feldspar", "Calcite", "Muscovite"], "range": ["M-1,-1H1V1H-1Z", "M1.06,0A1.06,1.06,0,1,1,-1.06,0A1.06,1.06,0,1,1,1.06,0Z", "M0,-1.2L1.3,1H-1.3Z", "M0,1.2L1.3,-1H-1.3Z"]}}
                  }
                },
                {
                  "transform": [{"filter": "datum.panel === 'd' && datum.mineral !== 'Quartz'"}],
                  "mark": {"type": "point", "size": 961, "opacity": 0, "strokeWidth": 1.3},
                  "encoding": {
                    "x": {"field": "time", "type": "quantitative", "axis": null},
                    "y": {"field": "content", "type": "quantitative", "axis": null},
                    "stroke": {"field": "mineral", "type": "nominal", "scale": {"domain": ["Quartz", "Sodium Feldspar", "Calcite", "Muscovite"], "range": ["#000000", "#ff0000", "#0000ff", "#008000"]},
                      "legend": {"orient": "none", "legendX": 877, "legendY": -82, "title": null, "padding": 0, "labelFont": "Liberation Serif", "labelFontSize": 54, "labelColor": "black", "labelLimit": 1000, "labelOffset": 47, "rowPadding": 14, "symbolSize": 961, "symbolOpacity": 1, "symbolStrokeWidth": 1.3, "symbolType": "M-3.9,0H-1.45M1.45,0H3.9"}}
                  }
                },
                {
                  "data": {"values": [{}]},
                  "mark": {"type": "point", "shape": "M-1.03,0.75L1.03,-1.6M-1.03,1.6L1.03,-0.75", "size": 1600, "filled": false, "stroke": "black", "strokeWidth": 4.5, "opacity": 1},
                  "encoding": {
                    "x": {"datum": 10, "type": "quantitative", "axis": null},
                    "y": {"datum": 22.92, "type": "quantitative", "axis": {"orient": "right", "domain": true, "domainColor": "black", "domainWidth": 5, "domainCap": "square", "ticks": false, "labels": false, "grid": false, "title": null}}
                  }
                },
                {
                  "data": {"values": [{}]},
                  "mark": {"type": "point", "shape": "M-1.03,0.75L1.03,-1.6M-1.03,1.6L1.03,-0.75", "size": 1600, "filled": false, "stroke": "black", "strokeWidth": 4.5, "opacity": 1},
                  "encoding": {
                    "x": {"datum": 37.5, "type": "quantitative", "axis": null},
                    "y": {"datum": 22.92, "type": "quantitative", "axis": null}
                  }
                }
              ]
            }
          ]
        }
      ]
    }
  ]
}
